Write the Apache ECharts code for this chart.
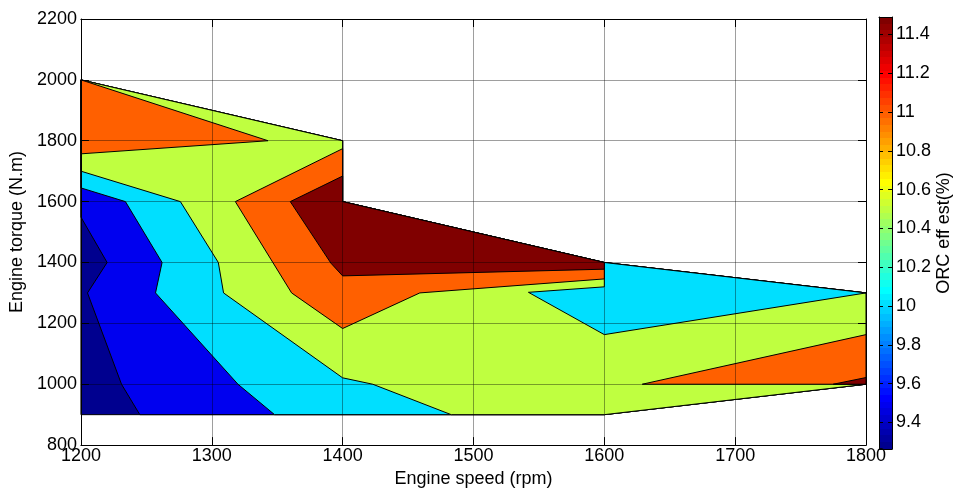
<!DOCTYPE html>
<html><head><meta charset="utf-8">
<script src="https://cdn.jsdelivr.net/npm/echarts@6/dist/echarts.min.js"></script>
<style>html,body{margin:0;padding:0;background:#fff}#c{width:954px;height:493px}</style>
</head><body><div id="c"></div>
<script>
// ---- data (engine speed rpm, engine torque N.m) ----
const xRange = [1200, 1800];
const yRange = [800, 2200];
const colorbarTicks = [9.4, 9.6, 9.8, 10, 10.2, 10.4, 10.6, 10.8, 11, 11.2, 11.4];
const cMin = 9.263, cMax = 11.49;

// contour regions (filled polygon of each level, painted in order)
const domain = [[1200,900],[1200,2000],[1400,1800],[1400,1600],[1600,1400],[1800,1300],[1800,1000],[1600,900]];
const region95 = [[1245,900],[1231,1000],[1205,1300],[1220,1400],[1200,1549],[1200,2000],[1400,1800],[1400,1600],[1600,1400],[1800,1300],[1800,1000],[1600,900]];
const region100 = [[1348,900],[1320,1000],[1257,1300],[1262,1400],[1234,1600],[1200,1645],[1200,2000],[1400,1800],[1400,1600],[1600,1400],[1800,1300],[1800,1000],[1600,900]];
const region105 = [[1483,900],[1423,1000],[1400,1021],[1309,1300],[1305,1400],[1276,1600],[1200,1700],[1200,2000],[1400,1800],[1400,1600],[1600,1400],[1800,1300],[1800,1000],[1600,900]];
const island100 = [[1600,1400],[1800,1300],[1600,1163],[1542,1302],[1600,1320]];
const region110a = [[1200,2000],[1343,1800],[1200,1757]];
const region110b = [[1400,1774],[1318,1600],[1361,1300],[1400,1183],[1459,1300],[1600,1346],[1600,1400],[1400,1600]];
const region110c = [[1629,1000],[1800,1163],[1800,1000]];
const region115a = [[1400,1684],[1360,1600],[1391,1398],[1400,1356],[1600,1378],[1600,1400],[1400,1600]];
const region115b = [[1775,1000],[1800,1022],[1800,1000]];

const regionLevels = [9.0, 9.5, 10.0, 10.5, 10.0, 11.0, 11.0, 11.0, 11.5, 11.5];
const regionShapes = [domain, region95, region100, region105, island100, region110a, region110b, region110c, region115a, region115b];

// ---- styling helpers ----
const FONT = '"Liberation Sans", Arial, Helvetica, sans-serif';
function jet(idx) {
  const t = idx / 64;
  const f = v => Math.max(0, Math.min(1, v));
  const r = f(1.5 - Math.abs(4 * t - 3)), g = f(1.5 - Math.abs(4 * t - 2)), b = f(1.5 - Math.abs(4 * t - 1));
  return 'rgb(' + Math.round(r * 255) + ',' + Math.round(g * 255) + ',' + Math.round(b * 255) + ')';
}
function levelColor(v) {
  let i = Math.floor((v - cMin) / (cMax - cMin) * 64) + 1;
  i = Math.max(1, Math.min(64, i));
  return jet(i);
}
const gradStops = [];
for (let i = 0; i < 64; i++) {
  gradStops.push({ offset: i / 64, color: jet(i + 1) });
  gradStops.push({ offset: (i + 1) / 64, color: jet(i + 1) });
}

const black = { color: '#000', width: 1 };
const plain = v => String(v);
const labelStyle = { color: '#000', fontSize: 18, fontFamily: FONT, formatter: plain };
const nameStyle = { color: '#000', fontSize: 18, fontFamily: FONT };

const chart = echarts.init(document.getElementById('c'), null, { renderer: 'canvas' });
chart.setOption({
  animation: false,
  backgroundColor: '#fff',
  grid: [
    { left: 80, top: 19, width: 786, height: 430 },
    { left: 879, top: 17, width: 20, height: 432 }
  ],
  xAxis: [
    { gridIndex: 0, type: 'value', min: xRange[0], max: xRange[1], interval: 100, position: 'bottom', z: 10,
      axisLine: { show: true, onZero: false, lineStyle: black },
      axisTick: { show: true, inside: true, length: 8, lineStyle: black },
      axisLabel: Object.assign({ margin: 2 }, labelStyle),
      splitLine: { show: true, lineStyle: { color: 'rgba(0,0,0,0.38)', width: 1 } },
      name: 'Engine speed (rpm)', nameLocation: 'middle', nameGap: 21, nameTextStyle: nameStyle },
    { gridIndex: 0, type: 'value', min: xRange[0], max: xRange[1], interval: 100, position: 'top', z: 10,
      axisLine: { show: true, onZero: false, lineStyle: black },
      axisTick: { show: true, inside: true, length: 8, lineStyle: black },
      axisLabel: { show: false }, splitLine: { show: false } },
    { gridIndex: 1, type: 'value', min: 0, max: 1, position: 'bottom', z: 10,
      axisLine: { show: true, onZero: false, lineStyle: black },
      axisTick: { show: false }, axisLabel: { show: false }, splitLine: { show: false } },
    { gridIndex: 1, type: 'value', min: 0, max: 1, position: 'top', z: 10,
      axisLine: { show: true, onZero: false, lineStyle: black },
      axisTick: { show: false }, axisLabel: { show: false }, splitLine: { show: false } }
  ],
  yAxis: [
    { gridIndex: 0, type: 'value', min: yRange[0], max: yRange[1], interval: 200, position: 'left', z: 10,
      axisLine: { show: true, onZero: false, lineStyle: black },
      axisTick: { show: true, inside: true, length: 8, lineStyle: black },
      axisLabel: Object.assign({ margin: 4, padding: [0, 0, 7, 0] }, labelStyle),
      splitLine: { show: true, lineStyle: { color: 'rgba(0,0,0,0.38)', width: 1 } },
      name: 'Engine torque (N.m)', nameLocation: 'middle', nameGap: 50, nameTextStyle: nameStyle },
    { gridIndex: 0, type: 'value', min: yRange[0], max: yRange[1], interval: 200, position: 'right', z: 10,
      axisLine: { show: true, onZero: false, lineStyle: black },
      axisTick: { show: true, inside: true, length: 8, lineStyle: black },
      axisLabel: { show: false }, splitLine: { show: false } },
    { gridIndex: 1, type: 'value', min: cMin, max: cMax, position: 'right', z: 10,
      axisLine: { show: true, onZero: false, lineStyle: black },
      axisTick: { show: true, inside: true, length: 4, lineStyle: black, customValues: colorbarTicks },
      axisLabel: Object.assign({ margin: 4, customValues: colorbarTicks }, labelStyle),
      splitLine: { show: false },
      name: 'ORC eff est(%)', nameLocation: 'middle', nameRotate: 90, nameGap: 36, nameTextStyle: nameStyle },
    { gridIndex: 1, type: 'value', min: cMin, max: cMax, position: 'left', z: 10,
      axisLine: { show: true, onZero: false, lineStyle: black },
      axisTick: { show: true, inside: true, length: 4, lineStyle: black, customValues: colorbarTicks },
      axisLabel: { show: false }, splitLine: { show: false } }
  ],
  series: [
    { type: 'custom', xAxisIndex: 0, yAxisIndex: 0, silent: true, clip: false, z: 2,
      data: regionShapes.map((s, i) => [s[0][0], s[0][1], regionLevels[i]]),
      renderItem: function (params, api) {
        const shape = regionShapes[params.dataIndex];
        const pts = shape.map(p => api.coord(p));
        return { type: 'polygon', shape: { points: pts },
          style: { fill: levelColor(regionLevels[params.dataIndex]), stroke: '#000', lineWidth: 1, lineJoin: 'miter' } };
      } },
    { type: 'custom', xAxisIndex: 2, yAxisIndex: 2, silent: true, clip: false, z: 2,
      data: [[0, cMin]],
      renderItem: function (params, api) {
        const p0 = api.coord([0, cMin]);
        const p1 = api.coord([1, cMax]);
        return { type: 'rect', shape: { x: p0[0], y: p1[1], width: p1[0] - p0[0], height: p0[1] - p1[1] },
          style: { fill: new echarts.graphic.LinearGradient(0, 1, 0, 0, gradStops) } };
      } }
  ]
});
</script>
</body></html>
